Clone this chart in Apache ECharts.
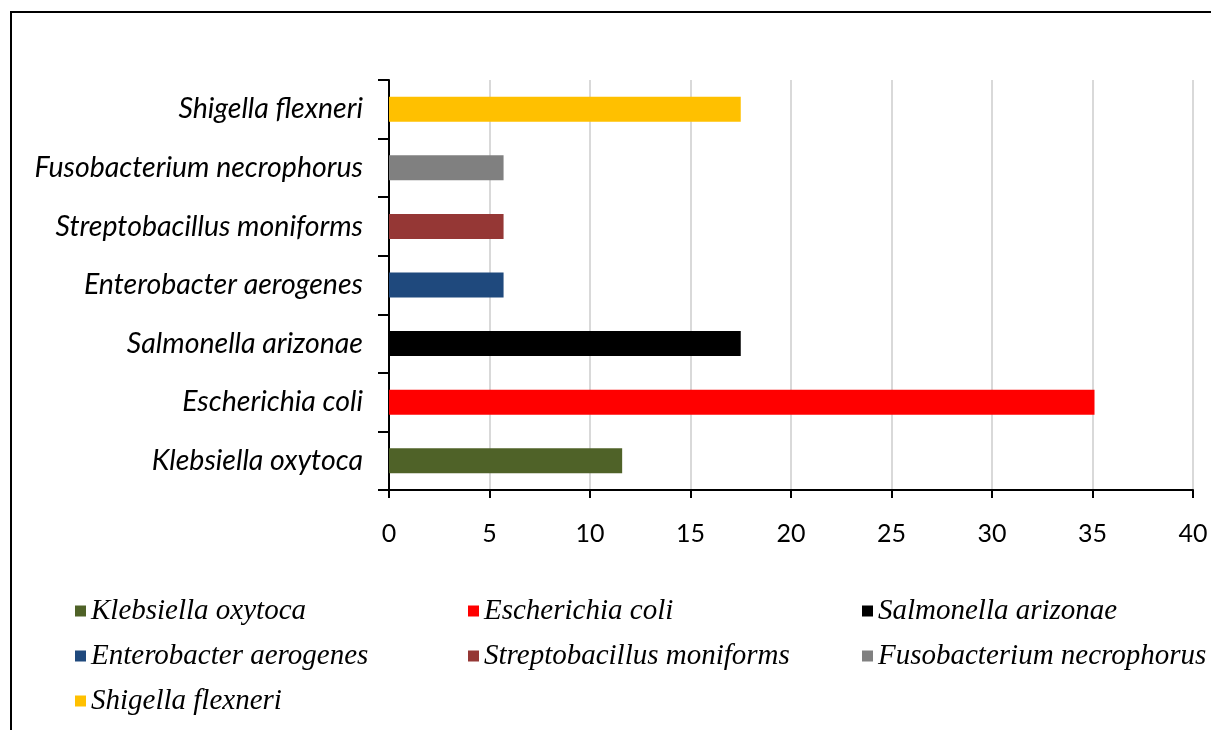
<!DOCTYPE html>
<html>
<head>
<meta charset="utf-8">
<script src="https://cdn.jsdelivr.net/npm/echarts@6/dist/echarts.min.js"></script>
<style>
  html, body { margin: 0; padding: 0; background: #fff; }
  #chart { width: 1211px; height: 730px; }
</style>
</head>
<body>
<div id="chart"></div>
<script>
// categories listed bottom to top, same order as the legend
const species = [
  'Klebsiella oxytoca',
  'Escherichia coli',
  'Salmonella arizonae',
  'Enterobacter aerogenes',
  'Streptobacillus moniforms',
  'Fusobacterium necrophorus',
  'Shigella flexneri'
]
const values = [11.6, 35.1, 17.5, 5.7, 5.7, 5.7, 17.5]
const colors = ['#4f6228', '#ff0000', '#000000', '#1f497d', '#953735', '#808080', '#ffc000']
const xTicks = [0, 5, 10, 15, 20, 25, 30, 35, 40]

const legendCols = [
  { left: 70, names: [species[0], species[3], species[6]] },
  { left: 463, names: [species[1], species[4]] },
  { left: 857, names: [species[2], species[5]] }
]

const labelFont = "Lato, Roboto, sans-serif"

const chart = echarts.init(document.getElementById('chart'))

const series = species.map((name, i) => ({
  name,
  type: 'bar',
  stack: 'all',
  barWidth: 25,
  itemStyle: { color: colors[i] },
  data: species.map((_, j) => (j === i ? values[i] : '-'))
}))

const option = {
  animation: false,
  backgroundColor: '#fff',
  graphic: [{
    type: 'rect',
    shape: { x: 11, y: 12, width: 1400, height: 900 },
    style: { fill: 'none', stroke: '#000', lineWidth: 2 },
    silent: true
  }],
  grid: { left: 389, right: 18, top: 80, bottom: 240, outerBoundsMode: 'none', containLabel: false },
  legend: legendCols.map(col => ({
    orient: 'vertical',
    left: col.left,
    top: 591,
    itemWidth: 11,
    itemHeight: 11,
    itemGap: 15,
    icon: 'rect',
    data: col.names,
    textStyle: {
      fontFamily: "'Liberation Serif', 'Times New Roman', serif",
      fontStyle: 'italic',
      fontSize: 29,
      lineHeight: 30,
      color: '#000'
    }
  })),
  xAxis: {
    type: 'value',
    min: xTicks[0],
    max: xTicks[xTicks.length - 1],
    interval: xTicks[1] - xTicks[0],
    axisLine: { show: true, lineStyle: { color: '#000', width: 2 } },
    axisTick: { show: true, length: 8, lineStyle: { color: '#000', width: 2 } },
    axisLabel: { color: '#000', fontSize: 25, fontFamily: labelFont, margin: 31 },
    splitLine: { show: true, lineStyle: { color: '#d9d9d9', width: 2 } }
  },
  yAxis: {
    type: 'category',
    data: species,
    axisLine: { show: true, lineStyle: { color: '#000', width: 2 } },
    axisTick: { show: true, length: 11, lineStyle: { color: '#000', width: 2 } },
    axisLabel: {
      color: '#000',
      fontSize: 28.5,
      fontStyle: 'italic',
      fontFamily: labelFont,
      margin: 26
    }
  },
  series
}

chart.setOption(option)
</script>
</body>
</html>
